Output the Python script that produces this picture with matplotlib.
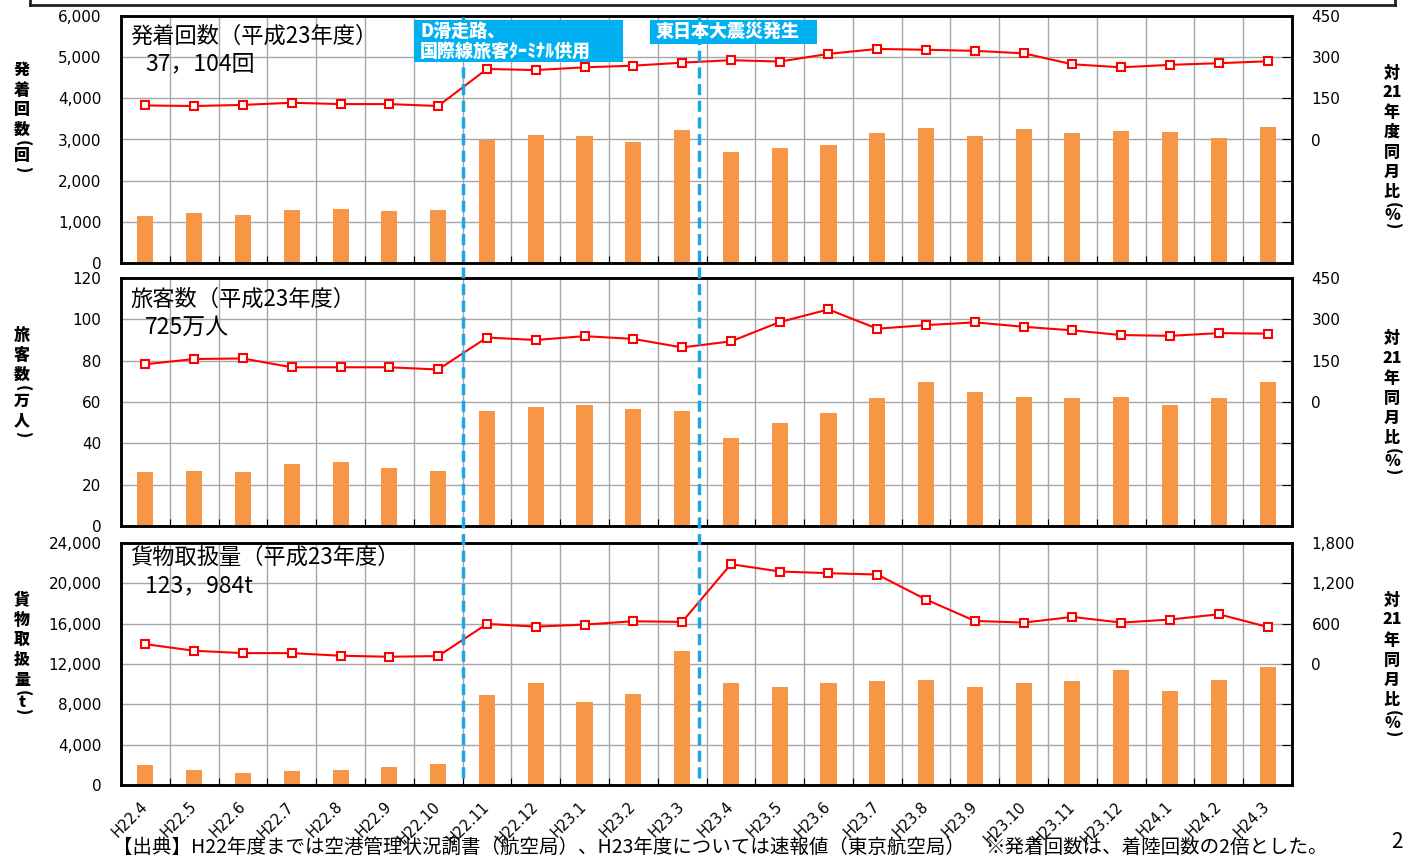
import numpy as np
import matplotlib
matplotlib.use('Agg')
import matplotlib.pyplot as plt
from matplotlib.lines import Line2D
from matplotlib.patches import Rectangle
from matplotlib.transforms import blended_transform_factory
from matplotlib.ticker import FuncFormatter

plt.rcParams['font.family'] = ['DejaVu Sans', 'Noto Sans CJK JP']
CJK = ['Noto Sans CJK JP', 'DejaVu Sans']

# ---------------- data ----------------
months = ['H22.4', 'H22.5', 'H22.6', 'H22.7', 'H22.8', 'H22.9', 'H22.10',
          'H22.11', 'H22.12', 'H23.1', 'H23.2', 'H23.3', 'H23.4', 'H23.5',
          'H23.6', 'H23.7', 'H23.8', 'H23.9', 'H23.10', 'H23.11', 'H23.12',
          'H24.1', 'H24.2', 'H24.3']

flights = [1150, 1210, 1170, 1280, 1300, 1260, 1280, 2990, 3115, 3090, 2930,
           3240, 2685, 2805, 2870, 3150, 3280, 3090, 3265, 3150, 3215, 3190,
           3040, 3295]
flights_ratio = [124, 122, 126, 134, 129, 129, 122, 257, 253, 263, 269, 280,
                 289, 284, 312, 330, 327, 323, 314, 274, 263, 272, 278, 285]

passengers = [26.0, 26.8, 26.0, 30.2, 31.0, 28.2, 26.8, 55.6, 57.6, 58.5,
              56.8, 55.6, 42.5, 49.6, 54.6, 61.8, 69.9, 64.9, 62.6, 61.8,
              62.6, 58.5, 61.8, 69.9]
passengers_ratio = [137, 156, 158, 126, 126, 126, 118, 234, 225, 239, 229,
                    198, 220, 290, 336, 266, 279, 289, 273, 260, 243, 240,
                    250, 248]

cargo = [2030, 1510, 1210, 1340, 1510, 1770, 2130, 8900, 10130, 8280, 9040,
         13250, 10130, 9670, 10130, 10300, 10460, 9740, 10130, 10300, 11420,
         9370, 10400, 11660]
cargo_ratio = [295, 197, 162, 162, 123, 108, 118, 596, 556, 586, 636, 626,
               1485, 1376, 1351, 1331, 959, 641, 616, 700, 616, 661, 740, 551]

titles = ['発着回数（平成23年度）', '旅客数（平成23年度）', '貨物取扱量（平成23年度）']
totals = ['37，104回', '725万人', '123，984t']
left_labels = [['発', '着', '回', '数', '(', '回', ')'],
               ['旅', '客', '数', '(', '万', '人', ')'],
               ['貨', '物', '取', '扱', '量', '(', 't', ')']]
right_labels = [['対', '21', '年', '度', '同', '月', '比', '(', '%', ')'],
                ['対', '21', '年', '同', '月', '比', '(', '%', ')'],
                ['対', '21', '年', '同', '月', '比', '(', '%', ')']]
events = [6.5, 11.35]
event_labels = ['D滑走路、\n国際線旅客ﾀｰﾐﾅﾙ供用', '東日本大震災発生']
source_text = '【出典】H22年度までは空港管理状況調書（航空局）、H23年度については速報値（東京航空局）'
note_text = '※発着回数は、着陸回数の2倍とした。'
page_no = '2'

# ---------------- layout ----------------
W, H = 1418, 855
fig = plt.figure(figsize=(W / 100, H / 100), dpi=100)


def fx(px):
    return px / W


def fy(py):
    return 1 - py / H


BAR_C = '#F79646'
GRID_C = '#A6A6A6'
BLUE = '#00B0F0'
AX_L, AX_R = 121, 1292

panels = [
    dict(top=16, bot=263, bars=flights, ratio=flights_ratio, ymax=6000, ystep=1000,
         rmax=450, rstep=150, lab_y=70, rlab_y=72.5, t_dy=20, s_dy=48),
    dict(top=278, bot=526, bars=passengers, ratio=passengers_ratio, ymax=120, ystep=20,
         rmax=450, rstep=150, lab_y=335, rlab_y=338, t_dy=21, s_dy=49),
    dict(top=543, bot=785, bars=cargo, ratio=cargo_ratio, ymax=24000, ystep=4000,
         rmax=1800, rstep=600, lab_y=600, rlab_y=600, t_dy=14, s_dy=43),
]

x = np.arange(len(months))
axes = []


def stack_text(xc, y0, tokens, size=11.5):
    adv = {'(': 6, ')': 6, '%': 14, 't': 12}
    y = y0
    prev = None
    for tok in tokens:
        a = adv.get(tok, 20)
        if prev is not None:
            y += (prev + a) / 2
        rot = -90 if tok in '()' else 0
        fig.text(fx(xc), fy(y), tok, ha='center', va='center', rotation=rot,
                 fontsize=size, fontweight='heavy', family=CJK)
        prev = a


for i, p in enumerate(panels):
    ax = fig.add_axes([fx(AX_L), fy(p['bot']), fx(AX_R) - fx(AX_L),
                       (p['bot'] - p['top']) / H])
    ax.bar(x, p['bars'], width=0.33, color=BAR_C, zorder=2)
    ax.set_xlim(-0.5, len(months) - 0.5)
    ax.set_ylim(0, p['ymax'])
    ax.set_yticks(np.arange(0, p['ymax'] + 1, p['ystep']))
    ax.yaxis.set_major_formatter(FuncFormatter(lambda v, _: f'{v:,.0f}'))
    ax.set_xticks(np.arange(-0.5, len(months), 1))
    ax.tick_params(axis='x', which='major', direction='in', length=5,
                   labelbottom=False, color='black')
    ax.tick_params(axis='y', length=0, pad=14, labelsize=11)
    ax.grid(True, color=GRID_C, lw=1)
    ax.set_axisbelow(True)
    for s in ax.spines.values():
        s.set_linewidth(1.8)
        s.set_color('black')

    ax2 = ax.twinx()
    ax2.plot(x, p['ratio'], color='#FF0000', lw=1.5, marker='s', ms=6,
             mfc='white', mec='#FF0000', mew=1.5, zorder=3)
    ax2.set_ylim(-p['rmax'], p['rmax'])
    ax2.set_yticks(np.arange(-p['rmax'], p['rmax'] + 1, p['rstep']))
    ax2.yaxis.set_major_formatter(
        FuncFormatter(lambda v, _: '' if v < 0 else f'{v:,.0f}'))
    ax2.tick_params(axis='y', direction='in', length=7, pad=14, labelsize=11)
    for s in ax2.spines.values():
        s.set_linewidth(1.8)
        s.set_color('black')

    fig.text(fx(130), fy(p['top'] + p['t_dy']), titles[i], ha='left', va='center',
             fontsize=16, family=CJK)
    fig.text(fx(145), fy(p['top'] + p['s_dy']), totals[i], ha='left', va='center',
             fontsize=16.5, family=CJK)

    stack_text(22, p['lab_y'], left_labels[i])
    stack_text(1392, p['rlab_y'], right_labels[i])
    axes.append(ax)

# x labels on the bottom panel
axb = axes[-1]
axb.set_xticks(x, labels=months, minor=True)
axb.tick_params(axis='x', which='minor', length=0, labelbottom=True,
                labelsize=10.5, pad=14)
for lab in axb.get_xticklabels(minor=True):
    lab.set_rotation(45)
    lab.set_ha('right')
    lab.set_va('center')
    lab.set_rotation_mode('anchor')

# event dashed lines spanning all panels
trans = blended_transform_factory(axb.transData, fig.transFigure)
y_top = axes[0].get_position().y1
y_bot = fy(778)
for ev in events:
    fig.add_artist(Line2D([ev, ev], [y_bot, y_top], transform=trans,
                          color='#1AA7E6', lw=2.5, ls=(0, (3.2, 1.6)), zorder=5))

# event boxes
boxes = [(414, 20, 623, 62), (650, 20, 817, 44)]
for (x0, y0, x1, y1), txt in zip(boxes, event_labels):
    fig.add_artist(Rectangle((fx(x0), fy(y1)), fx(x1) - fx(x0), (y1 - y0) / H,
                             transform=fig.transFigure, facecolor=BLUE,
                             edgecolor='none', zorder=6))
    fig.text(fx(x0 + 6), fy(y0 + 2), txt, ha='left', va='top', color='white',
             fontsize=13, fontweight='heavy', family=CJK, zorder=7,
             linespacing=1.1)

# top frame remnant
fig.add_artist(Line2D([fx(30), fx(1395)], [fy(5), fy(5)], color='#222222', lw=2,
                      transform=fig.transFigure))
for xx in (30, 1395):
    fig.add_artist(Line2D([fx(xx), fx(xx)], [fy(0), fy(5)], color='#222222', lw=2,
                          transform=fig.transFigure))

# footer
fig.text(fx(113), fy(847), source_text, ha='left', va='center', fontsize=14,
         family=CJK)
fig.text(fx(985), fy(847), note_text, ha='left', va='center', fontsize=14,
         family=CJK)
fig.text(fx(1397), fy(842), page_no, ha='center', va='center', fontsize=15,
         family=CJK)

fig.savefig('out.png', dpi=100)
